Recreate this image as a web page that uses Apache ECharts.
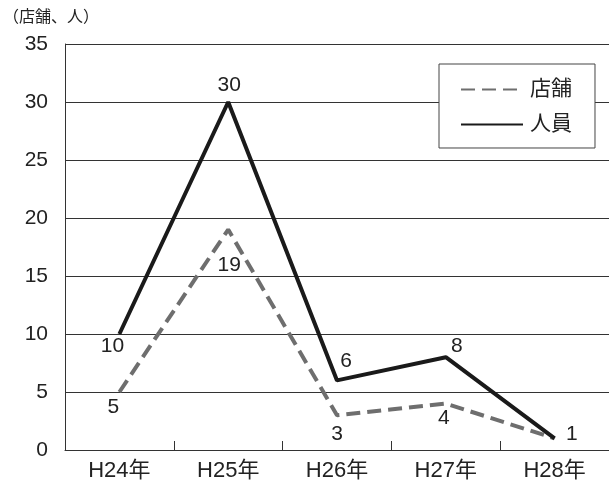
<!DOCTYPE html>
<html>
<head>
<meta charset="utf-8">
<script src="https://cdn.jsdelivr.net/npm/echarts@6/dist/echarts.min.js"></script>
<style>html,body{margin:0;padding:0;background:#fff;}#c{width:609px;height:483px;}</style>
</head>
<body>
<div id="c"></div>
<script>
var categories = ['H24年', 'H25年', 'H26年', 'H27年', 'H28年'];
var storeValues = [5, 19, 3, 4, 1];
var staffValues = [10, 30, 6, 8, 1];
var yTicks = [0, 5, 10, 15, 20, 25, 30, 35];
var seriesNames = ['店舗', '人員'];
var unitLabel = '（店舗、人）';

var FONT = '"Liberation Sans", "Noto Sans CJK JP", sans-serif';

// label placement (style only)
var storeLabelCfg = [
  {position: 'bottom', offset: [-6, 0]},
  {position: 'bottom', offset: [1, 21]},
  {position: 'bottom', offset: [0, 4]},
  {position: 'bottom', offset: [-2, 0]},
  {show: false}
];
var staffLabelCfg = [
  {position: 'bottom', offset: [-7, -3]},
  {position: 'top', offset: [1, -2]},
  {position: 'top', offset: [9, -4]},
  {position: 'top', offset: [11, 4]},
  {position: 'right', offset: [7, -4]}
];

function build(vals, cfg) {
  return vals.map(function (v, i) {
    return {value: v, label: cfg[i]};
  });
}

var chart = echarts.init(document.getElementById('c'));
chart.setOption({
  animation: false,
  backgroundColor: '#fff',
  textStyle: {fontFamily: FONT},
  grid: {left: 65, top: 44, bottom: 33, width: 550, containLabel: false},
  graphic: [{
    type: 'text', left: 3, top: 10,
    style: {text: unitLabel, font: '16px ' + FONT, fill: '#222'}
  }],
  legend: {
    orient: 'vertical',
    left: 439, top: 64,
    padding: [15, 23, 13, 21],
    itemWidth: 62, itemHeight: 18, itemGap: 14,
    backgroundColor: '#fff',
    borderColor: '#444', borderWidth: 1, borderRadius: 0,
    itemStyle: {opacity: 0},
    textStyle: {fontSize: 21, color: '#222', fontFamily: FONT, padding: [0, 0, 0, 2]},
    data: seriesNames
  },
  xAxis: {
    type: 'category',
    data: categories,
    boundaryGap: true,
    axisLine: {lineStyle: {color: '#333', width: 1}},
    axisTick: {show: true, inside: true, length: 9, lineStyle: {color: '#333'}},
    axisLabel: {fontSize: 22, color: '#222', margin: 10, fontFamily: FONT},
    splitLine: {show: false}
  },
  yAxis: {
    type: 'value', min: yTicks[0], max: yTicks[yTicks.length - 1], interval: 5,
    axisLine: {show: true, lineStyle: {color: '#333', width: 1}},
    axisTick: {show: false},
    axisLabel: {fontSize: 21, color: '#222', margin: 17, fontFamily: FONT},
    splitLine: {show: true, lineStyle: {color: '#333', width: 1}}
  },
  series: [
    {
      name: seriesNames[0], type: 'line', symbol: 'circle', symbolSize: 1,
      showAllSymbol: true,
      data: build(storeValues, storeLabelCfg),
      lineStyle: {color: '#6e6e6e', width: 4, type: [14, 7]},
      itemStyle: {color: 'rgba(0,0,0,0)'},
      label: {show: true, fontSize: 21, color: '#222', fontFamily: FONT, distance: 4},
      z: 3
    },
    {
      name: seriesNames[1], type: 'line', symbol: 'circle', symbolSize: 1,
      showAllSymbol: true,
      data: build(staffValues, staffLabelCfg),
      lineStyle: {color: '#1a1a1a', width: 4},
      itemStyle: {color: 'rgba(0,0,0,0)'},
      label: {show: true, fontSize: 21, color: '#222', fontFamily: FONT, distance: 4},
      z: 4
    }
  ]
});
</script>
</body>
</html>
